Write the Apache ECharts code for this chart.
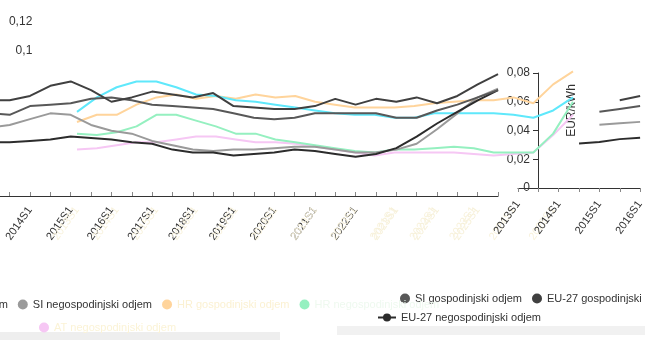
<!DOCTYPE html>
<html><head><meta charset="utf-8">
<script src="https://cdn.jsdelivr.net/npm/echarts/dist/echarts.min.js"></script>
<style>html,body{margin:0;padding:0;background:#fff;overflow:hidden}#c{width:645px;height:340px}</style>
</head><body><div id="c"></div><script>
const periods = ['2013S1','2013S2','2014S1','2014S2','2015S1','2015S2','2016S1','2016S2','2017S1','2017S2','2018S1','2018S2','2019S1','2019S2','2020S1','2020S2','2021S1','2021S2','2022S1','2022S2','2023S1','2023S2','2024S1','2024S2','2025S1','2025S2'];

// dark group (main chart)
const euGosp   = [0.066,0.066,0.069,0.076,0.079,0.073,0.065,0.068,0.072,0.070,0.068,0.071,0.062,0.061,0.060,0.060,0.062,0.067,0.063,0.067,0.065,0.068,0.064,0.069,0.077,0.084];
const siGosp   = [0.057,0.056,0.062,0.063,0.064,0.067,0.068,0.066,0.063,0.062,0.061,0.060,0.057,0.054,0.053,0.054,0.057,0.057,0.057,0.057,0.054,0.054,0.059,0.063,0.068,0.073];
const siNegosp = [0.047,0.049,0.053,0.057,0.056,0.049,0.045,0.043,0.038,0.035,0.032,0.031,0.032,0.032,0.033,0.034,0.034,0.032,0.030,0.030,0.032,0.036,0.046,0.057,0.068,0.074];
const euNegosp = [0.037,0.037,0.038,0.039,0.041,0.040,0.039,0.037,0.036,0.032,0.030,0.030,0.028,0.029,0.030,0.032,0.031,0.029,0.027,0.029,0.033,0.041,0.050,0.058,0.066,0.073];

// pale coloured group (shifted copy)
const cyanVals   = [0.058,0.068,0.075,0.079,0.079,0.075,0.070,0.069,0.066,0.065,0.063,0.061,0.059,0.057,0.056,0.056,0.054,0.054,0.057,0.057,0.057,0.057,0.056,0.054,0.059,0.068];
const orangeVals = [0.051,0.056,0.056,0.063,0.068,0.070,0.067,0.069,0.067,0.070,0.068,0.069,0.065,0.063,0.061,0.061,0.061,0.062,0.064,0.065,0.066,0.066,0.068,0.064,0.077,0.086];
const greenVals  = [0.043,0.042,0.044,0.048,0.056,0.056,0.052,0.048,0.043,0.043,0.039,0.037,0.035,0.033,0.031,0.030,0.032,0.032,0.033,0.034,0.033,0.030,0.030,0.030,0.043,0.065];
const pinkVals   = [0.032,0.033,0.035,0.037,0.037,0.039,0.041,0.041,0.039,0.037,0.037,0.036,0.034,0.032,0.030,0.028,0.030,0.030,0.030,0.030,0.029,0.028,0.029,0.030,0.042,0.056];

// small right-hand panel
const cPeriods   = periods.slice(0, 7);
const cEuGosp    = ['-','-','-','-','-',0.061,0.064];
const cSiGosp    = ['-','-','-','-',0.053,0.055,0.057];
const cSiNegosp  = ['-','-','-','-',0.044,0.045,0.046];
const cEuNegosp  = ['-','-','-',0.031,0.032,0.034,0.035];

const N_EU_G = 'EU-27 gospodinjski odjem';
const N_SI_G = 'SI gospodinjski odjem';
const N_SI_N = 'SI negospodinjski odjem';
const N_EU_N = 'EU-27 negospodinjski odjem';
const N_OR = 'HR gospodinjski odjem';
const N_GR = 'HR negospodinjski odjem';
const N_PK = 'AT negospodinjski odjem';
const N_CY = 'AT gospodinjski odjem';

const C = {eug:'#404040', sig:'#585858', sin:'#9a9a9a', eun:'#2c2c2c', cy:'#5fe8fb', or:'#ffd49b', gr:'#95f0c0', pk:'#f6c7f4'};
const fmt = v => String(+(+v).toFixed(3)).replace('.', ',');
const FF = '"Liberation Sans", Arial, sans-serif';

function line(name, data, color, xi, z) {
  return {type:'line', name, data, xAxisIndex:xi, yAxisIndex:xi, showSymbol:false, symbol:'circle',
    lineStyle:{width:2, color}, itemStyle:{color}, z, animation:false};
}

const chart = echarts.init(document.getElementById('c'), null, {renderer:'canvas'});
const legBase = {icon:'circle', itemWidth:10, itemHeight:10, itemGap:10, width:900, orient:'horizontal',
  textStyle:{fontSize:11, color:'#333', fontFamily:FF}, selectedMode:false};
const gridBase = {containLabel:false, outerBoundsMode:'none'};
chart.setOption({
  animation:false,
  textStyle:{fontFamily:FF},
  grid:[
    Object.assign({left:-10.7, width:508.75, top:22, height:174}, gridBase),
    Object.assign({left:77, width:496, top:22, height:174}, gridBase),
    Object.assign({left:518, width:122.1, top:73, height:115}, gridBase)
  ],
  xAxis:[
    {type:'category', gridIndex:0, data:periods, boundaryGap:false,
     axisLine:{lineStyle:{color:'#333'}}, axisTick:{inside:true, length:4, interval:0, lineStyle:{color:'#888'}},
     axisLabel:{rotate:55, interval:1, margin:12, fontSize:11, color:(v,i)=> (periods.indexOf(v) <= 19 ? '#333' : '#f6f0d8')}},
    {type:'category', gridIndex:1, data:periods, boundaryGap:false,
     axisLine:{show:false}, axisTick:{show:false},
     axisLabel:{rotate:55, interval:1, margin:12, fontSize:11, color:'#f8f2dc'}},
    {type:'category', gridIndex:2, data:cPeriods, boundaryGap:false,
     axisLine:{lineStyle:{color:'#333'}}, axisTick:{length:4, interval:0, lineStyle:{color:'#888'}},
     axisLabel:{rotate:55, interval:1, margin:14, fontSize:11, color:'#333'}}
  ],
  yAxis:[
    {type:'value', gridIndex:0, min:0, max:0.12, interval:0.02, offset:-45,
     splitLine:{show:false}, axisLine:{show:false}, axisTick:{show:false},
     axisLabel:{margin:2, fontSize:12, color:'#333', formatter:v => (v >= 0.0999 ? fmt(v) : '')}},
    {type:'value', gridIndex:1, min:0, max:0.12, show:false},
    {type:'value', gridIndex:2, min:0, max:0.08, interval:0.02, offset:-20,
     name:'EUR/kWh', nameLocation:'middle', nameGap:-40, nameRotate:90,
     nameTextStyle:{fontSize:12, color:'#333', padding:[0,0,0,40]},
     splitLine:{show:false}, axisLine:{show:true, lineStyle:{color:'#333'}}, axisTick:{show:true, length:5, lineStyle:{color:'#333'}},
     axisLabel:{margin:8, fontSize:12, color:'#333', formatter:v => fmt(v)}}
  ],
  legend:[
    Object.assign({}, legBase, {left:395, top:288, data:[{name:N_SI_G},{name:N_EU_G}]}),
    Object.assign({}, legBase, {left:372, top:307, icon:null, itemWidth:18, data:[{name:N_EU_N}]}),
    Object.assign({}, legBase, {left:-140, top:294, data:[{name:N_EU_G},{name:N_SI_N},
      {name:N_OR, textStyle:{color:'#fbf1d2'}},{name:N_GR, textStyle:{color:'#eef9ef'}}]}),
    Object.assign({}, legBase, {left:34, top:317, data:[{name:N_PK, textStyle:{color:'#fbf3d6'}}]})
  ],
  graphic:[
    {type:'rect', left:0, top:332, shape:{width:280, height:8}, style:{fill:'#eeeeee'}, silent:true},
    {type:'rect', left:337, top:326, shape:{width:308, height:9}, style:{fill:'#f1f1f1'}, silent:true}
  ],
  series:[
    line(N_PK, pinkVals, C.pk, 1, 1),
    line(N_GR, greenVals, C.gr, 1, 1),
    line(N_OR, orangeVals, C.or, 1, 1),
    line(N_CY, cyanVals, C.cy, 1, 1),
    line(N_SI_N, siNegosp, C.sin, 0, 3),
    line(N_EU_N, euNegosp, C.eun, 0, 3),
    line(N_SI_G, siGosp, C.sig, 0, 3),
    line(N_EU_G, euGosp, C.eug, 0, 3),
    line(N_SI_N, cSiNegosp, C.sin, 2, 3),
    line(N_EU_N, cEuNegosp, C.eun, 2, 3),
    line(N_SI_G, cSiGosp, C.sig, 2, 3),
    line(N_EU_G, cEuGosp, C.eug, 2, 3)
  ]
});
</script></body></html>
